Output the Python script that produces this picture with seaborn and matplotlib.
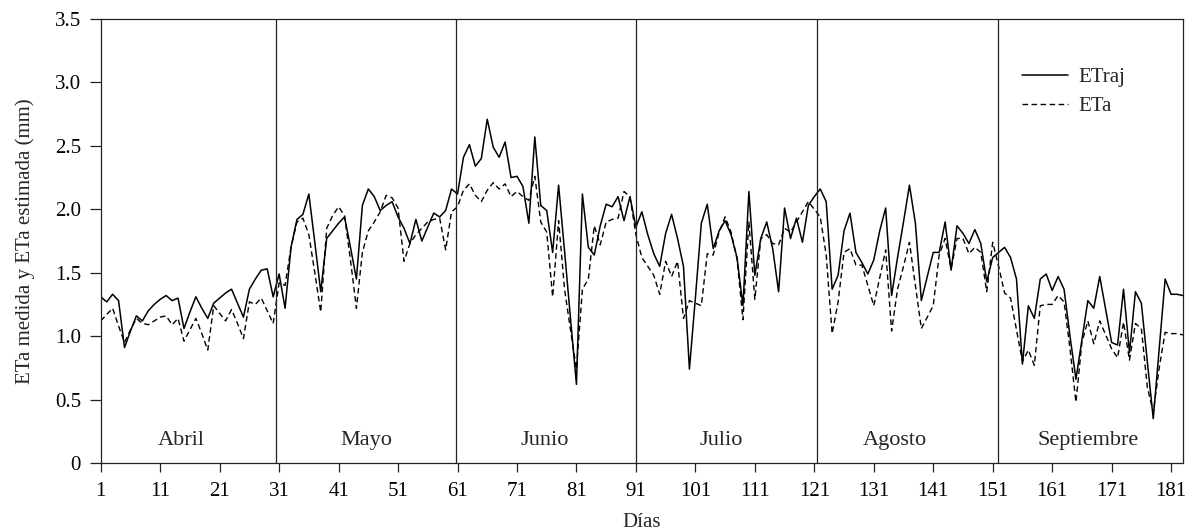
import numpy as np
import matplotlib
matplotlib.use("Agg")
import matplotlib.pyplot as plt
import seaborn as sns

# days 1..183 (April to September)
dias = np.arange(1, 184)

# ETraj (solid line)
etraj = [
    # Abril
    1.31, 1.27, 1.33, 1.28, 0.91, 1.04, 1.16, 1.12, 1.20, 1.25,
    1.29, 1.32, 1.28, 1.30, 1.06, 1.19, 1.31, 1.22, 1.14, 1.26,
    1.30, 1.34, 1.37, 1.26, 1.15, 1.37, 1.45, 1.52, 1.53, 1.31,
    # Mayo
    1.49, 1.22, 1.70, 1.92, 1.96, 2.12, 1.74, 1.35, 1.77, 1.83,
    1.89, 1.94, 1.70, 1.45, 2.03, 2.16, 2.10, 1.99, 2.03, 2.06,
    1.94, 1.85, 1.73, 1.92, 1.75, 1.86, 1.97, 1.94, 1.99, 2.16,
    # Junio
    2.12, 2.41, 2.51, 2.34, 2.40, 2.71, 2.49, 2.41, 2.53, 2.25,
    2.26, 2.18, 1.89, 2.57, 2.03, 1.99, 1.66, 2.19, 1.67, 1.14,
    0.62, 2.12, 1.70, 1.64, 1.87, 2.04, 2.02, 2.10, 1.91, 2.10,
    # Julio
    1.86, 1.98, 1.80, 1.65, 1.55, 1.81, 1.96, 1.77, 1.55, 0.74,
    1.30, 1.89, 2.04, 1.69, 1.83, 1.91, 1.80, 1.62, 1.24, 2.14,
    1.48, 1.77, 1.90, 1.69, 1.35, 2.01, 1.77, 1.93, 1.74, 2.03,
    # Agosto
    2.10, 2.16, 2.06, 1.37, 1.48, 1.83, 1.97, 1.66, 1.58, 1.49,
    1.60, 1.83, 2.01, 1.32, 1.62, 1.90, 2.19, 1.89, 1.28, 1.47,
    1.66, 1.66, 1.90, 1.52, 1.87, 1.81, 1.73, 1.84, 1.73, 1.43,
    # Septiembre
    1.62, 1.66, 1.70, 1.62, 1.45, 0.78, 1.24, 1.14, 1.45, 1.49,
    1.36, 1.47, 1.37, 1.00, 0.66, 0.97, 1.28, 1.22, 1.47, 1.21,
    0.95, 0.93, 1.37, 0.87, 1.35, 1.26, 0.80, 0.35, 0.90, 1.45,
    1.33, 1.33, 1.32,
]

# ETa (dashed line)
eta = [
    # Abril
    1.12, 1.17, 1.22, 1.08, 0.95, 1.05, 1.14, 1.10, 1.09, 1.12,
    1.15, 1.16, 1.09, 1.14, 0.96, 1.05, 1.14, 1.02, 0.89, 1.24,
    1.18, 1.12, 1.21, 1.10, 0.98, 1.27, 1.25, 1.30, 1.20, 1.10,
    # Mayo
    1.42, 1.40, 1.70, 1.90, 1.93, 1.80, 1.50, 1.19, 1.85, 1.95,
    2.02, 1.95, 1.60, 1.22, 1.66, 1.83, 1.90, 1.98, 2.11, 2.09,
    2.01, 1.59, 1.73, 1.80, 1.85, 1.90, 1.92, 1.93, 1.68, 1.98,
    # Junio
    2.02, 2.15, 2.20, 2.11, 2.06, 2.15, 2.21, 2.16, 2.20, 2.10,
    2.14, 2.10, 2.07, 2.26, 1.90, 1.82, 1.31, 1.91, 1.37, 1.05,
    0.74, 1.37, 1.45, 1.87, 1.72, 1.90, 1.92, 1.93, 2.14, 2.10,
    # Julio
    1.80, 1.62, 1.55, 1.48, 1.33, 1.59, 1.47, 1.59, 1.14, 1.28,
    1.26, 1.24, 1.65, 1.64, 1.82, 1.94, 1.82, 1.61, 1.13, 1.90,
    1.29, 1.77, 1.80, 1.73, 1.72, 1.85, 1.82, 1.90, 1.98, 2.06,
    # Agosto
    2.00, 1.94, 1.64, 1.02, 1.27, 1.66, 1.69, 1.56, 1.56, 1.40,
    1.24, 1.46, 1.68, 1.04, 1.37, 1.55, 1.74, 1.40, 1.06, 1.15,
    1.24, 1.64, 1.77, 1.53, 1.77, 1.77, 1.65, 1.70, 1.66, 1.35,
    # Septiembre
    1.74, 1.55, 1.34, 1.30, 1.05, 0.80, 0.89, 0.77, 1.24, 1.25,
    1.25, 1.32, 1.27, 0.90, 0.48, 0.95, 1.12, 0.94, 1.12, 1.01,
    0.90, 0.83, 1.11, 0.81, 1.10, 1.06, 0.60, 0.40, 0.75, 1.03,
    1.02, 1.02, 1.01,
]

meses = ["Abril", "Mayo", "Junio", "Julio", "Agosto", "Septiembre"]
divisiones = [30.5, 60.7, 91.0, 121.5, 151.9]
pos_meses = [14.6, 45.6, 75.7, 105.3, 134.6, 167.1]
xticks = list(range(1, 182, 10))
yticks = [0, 0.5, 1.0, 1.5, 2.0, 2.5, 3.0, 3.5]
ytick_labels = ["0", "0.5", "1.0", "1.5", "2.0", "2.5", "3.0", "3.5"]

sns.set_style("ticks")
plt.rcParams["font.family"] = ["Liberation Serif", "DejaVu Serif"]

fig = plt.figure(figsize=(11.85, 5.32), dpi=100)
ax = fig.add_axes([0.085, 0.1297, 0.9133, 0.8346])

sns.lineplot(x=dias, y=etraj, ax=ax, color="black", linewidth=1.1, label="ETraj")
sns.lineplot(x=dias, y=eta, ax=ax, color="black", linewidth=1.0,
             linestyle=(0, (4, 2.5)), label="ETa")

# month dividers and names
for b in divisiones:
    ax.axvline(b, color="#222222", linewidth=0.9)
for mes, xm in zip(meses, pos_meses):
    ax.text(xm, 0.18, mes, ha="center", va="center", fontsize=16)

ax.set_xlim(1, 183)
ax.set_ylim(0, 3.5)
ax.set_xticks(xticks)
ax.set_yticks(yticks)
ax.set_yticklabels(ytick_labels)
ax.tick_params(direction="out", width=0.9, labelsize=15, colors="#222222",
               labelcolor="black")
ax.tick_params(axis="x", length=6.5, pad=7)
ax.tick_params(axis="y", length=7.7, pad=6.5)
for s in ax.spines.values():
    s.set_linewidth(0.9)
    s.set_color("#222222")

ax.set_xlabel("Días", fontsize=15, labelpad=9)
ax.set_ylabel("ETa medida y ETa estimada (mm)", fontsize=15, labelpad=14)

ax.legend(loc="upper left", bbox_to_anchor=(0.851, 0.891), frameon=False,
          borderaxespad=0, borderpad=0, fontsize=15, handlelength=2.2,
          handletextpad=0.5, labelspacing=0.45)

fig.savefig("out.png", dpi=100)
